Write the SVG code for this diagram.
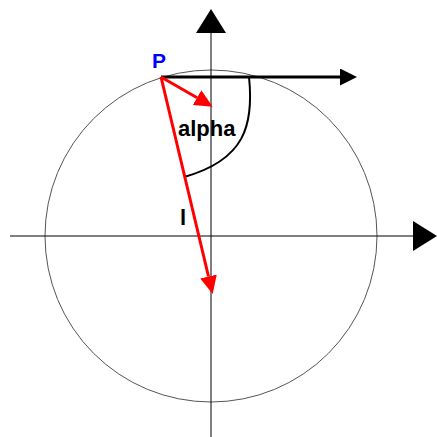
<svg xmlns="http://www.w3.org/2000/svg" width="437" height="437" viewBox="0 0 437 437">
<defs>
<style>
.axis{stroke:#000;stroke-width:1;fill:none}
.circ{stroke:#555;stroke-width:1;fill:none}
.red{stroke:#ff0000;stroke-width:3;fill:none}
.blk{stroke:#000;stroke-width:3;fill:none}
.arc{stroke:#000;stroke-width:2;fill:none}
.lbl{font-family:"Liberation Sans",Arial,sans-serif;font-weight:bold}
</style>
<marker id="bigArrow" viewBox="0 0 10 10" refX="0" refY="5" markerUnits="userSpaceOnUse" markerWidth="24" markerHeight="30" orient="auto" preserveAspectRatio="none"><path d="M0,0 L10,5 L0,10 Z" fill="#000"/></marker>
<marker id="blkArrow" viewBox="0 0 10 10" refX="0" refY="5" markerUnits="userSpaceOnUse" markerWidth="17" markerHeight="17" orient="auto" preserveAspectRatio="none"><path d="M0,0 L10,5 L0,10 Z" fill="#000"/></marker>
<marker id="redArrow" viewBox="0 0 10 10" refX="0" refY="5" markerUnits="userSpaceOnUse" markerWidth="18" markerHeight="17" orient="auto" preserveAspectRatio="none"><path d="M0,0 L10,5 L0,10 Z" fill="#ff0000"/></marker>
</defs>
<rect width="437" height="437" fill="#fff"/>
<g id="circle"><circle class="circ" cx="211" cy="236" r="166"/></g>
<g id="connectors">
<line class="axis" x1="10" y1="236" x2="413" y2="236" marker-end="url(#bigArrow)"/>
<line class="axis" x1="211" y1="437" x2="211" y2="33" marker-end="url(#bigArrow)"/>
<line class="blk" x1="161" y1="77" x2="340" y2="77" marker-end="url(#blkArrow)"/>
<path class="arc" d="M249,77 C254,125 245,160 184,177"/>
<line class="red" x1="161" y1="77" x2="197.1" y2="97.7" marker-end="url(#redArrow)"/>
<line class="red" x1="161" y1="77" x2="208.5" y2="276.5" marker-end="url(#redArrow)"/>
</g>
<g id="label-P"><text class="lbl" x="152" y="68" font-size="21" fill="#0000ff">P</text></g>
<g id="label-alpha"><text class="lbl" x="178" y="136" font-size="22" fill="#000">alpha</text></g>
<g id="label-l"><text class="lbl" x="180" y="225" font-size="22" fill="#000">l</text></g>
</svg>
